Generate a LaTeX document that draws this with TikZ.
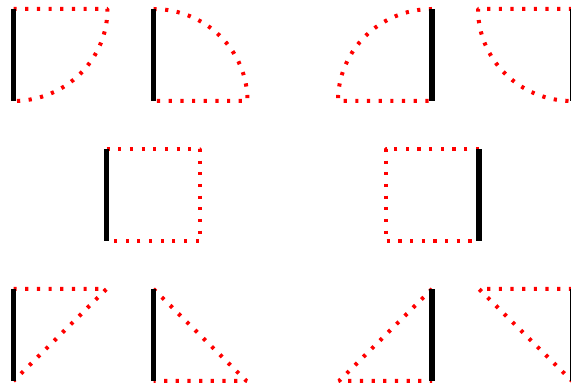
\documentclass[tikz,border=0pt]{standalone}
\begin{document}
\begin{tikzpicture}[x=1pt,y=1pt,
  reddot/.style={red, line width=4pt, line join=bevel, dash pattern=on 3.2pt off 8.47pt},
  bar/.style={black, line width=5.2pt}]
\useasboundingbox (0,0) rectangle (571,390);
% top row
\draw[reddot] (13.5,381) -- (107.5,381) arc[start angle=0, end angle=-90, x radius=94, y radius=92];
\draw[reddot] (153.5,381) arc[start angle=90, end angle=0, x radius=94, y radius=92] -- (153.5,289);
\draw[reddot] (432,381) arc[start angle=90, end angle=180, x radius=94, y radius=92] -- (432,289);
\draw[reddot] (572,381) -- (478,381) arc[start angle=180, end angle=270, x radius=94, y radius=92];
\draw[bar] (13.5,289) -- (13.5,381);
\draw[bar] (153.5,289) -- (153.5,381);
\draw[bar] (432,289) -- (432,381);
\draw[bar] (572.3,289) -- (572.3,381);
% middle row
\draw[reddot] (106.5,241) -- (200,241) -- (200,149) -- (106.5,149);
\draw[reddot] (479,241) -- (385.5,241) -- (385.5,149) -- (479,149);
\draw[bar] (106.5,149) -- (106.5,241);
\draw[bar] (479,149) -- (479,241);
% bottom row
\draw[reddot] (13.5,101) -- (106.5,101) -- (13.5,9);
\draw[reddot] (153.5,101) -- (246.5,9) -- (153.5,9);
\draw[reddot] (432,101) -- (339,9) -- (432,9);
\draw[reddot] (572,101) -- (479,101) -- (572,9);
\draw[bar] (13.5,9) -- (13.5,101);
\draw[bar] (153.5,9) -- (153.5,101);
\draw[bar] (432,9) -- (432,101);
\draw[bar] (572.3,9) -- (572.3,101);
\end{tikzpicture}
\end{document}
